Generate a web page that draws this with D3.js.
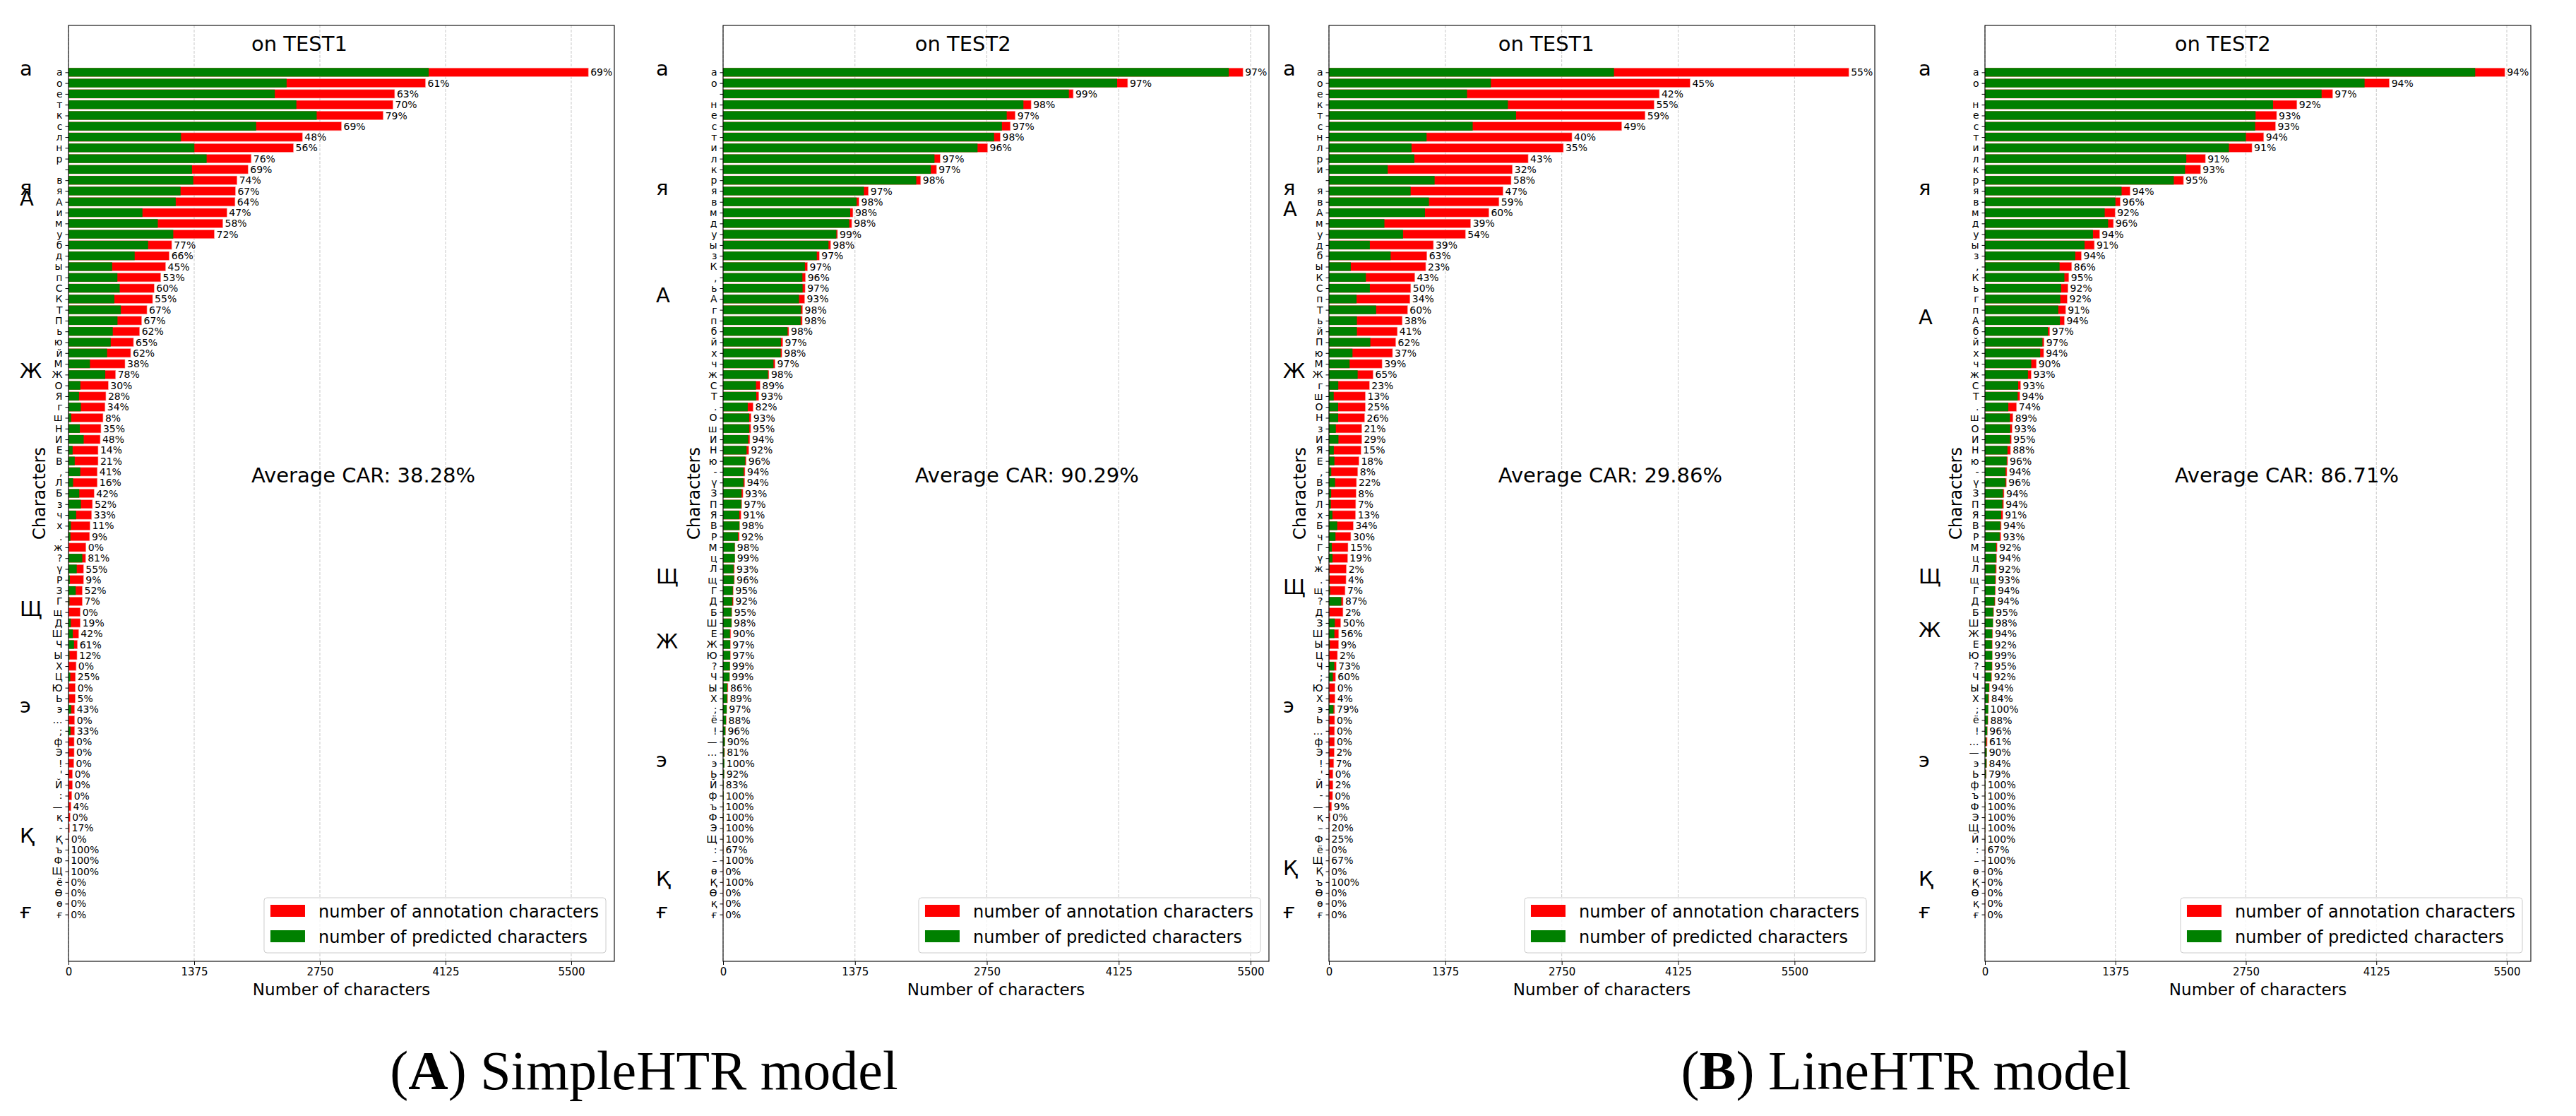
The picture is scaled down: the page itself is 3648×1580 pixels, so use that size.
<!DOCTYPE html>
<html>
<head>
<meta charset="utf-8">
<script src="https://cdn.jsdelivr.net/npm/d3@7"></script>
<style>
  body { margin: 0; background: #fff; }
  svg { display: block; }
</style>
</head>
<body>
<svg id="fig"></svg>
<script>
// ---- data ----
const xTicks = [0, 1375, 2750, 4125, 5500];
const panelTitles = ["on TEST1", "on TEST2", "on TEST1", "on TEST2"];
const averageCar = ["38.28", "90.29", "29.86", "86.71"];
const legendLabels = ["number of annotation characters", "number of predicted characters"];
const captions = [["A", " SimpleHTR model"], ["B", " LineHTR model"]];

// SimpleHTR on TEST1
const simpleT1Chars = ["а","о","е","т","к","с","л","н","р"," ","в","я","А","и","м","у","б","д","ы","п",
  "С","К","Т","П","ь","ю","й","М","Ж","О","Я","г","ш","Н","И","Е","В",",","Л","Б",
  "з","ч","х",".","ж","?","ү","Р","З","Г","щ","Д","Ш","Ч","Ы","Х","Ц","Ю","Ь","э",
  "…",";","ф","Э","!","'","Й",":","—","қ","-","Қ","ъ","Ф","Щ","ё","Ө","ө","ғ"];
const simpleT1Annot = [5687,3905,3568,3550,3443,2986,2559,2461,1999,1964,1844,1826,1822,1733,1688,1595,1129,1102,1062,1009,
  937,920,858,800,778,711,680,618,515,435,409,400,378,355,347,324,324,315,315,280,
  262,253,235,231,191,187,164,164,151,151,129,129,111,98,93,84,76,75,74,67,
  67,67,62,62,58,44,44,36,27,18,12,5,3,2,1,1,1,1,1];
const simpleT1Pred = [3941,2386,2257,2493,2715,2053,1231,1377,1511,1351,1365,1226,1173,809,977,1146,871,724,478,535,
  560,502,573,536,484,462,422,235,402,130,115,136,30,124,166,45,68,129,50,118,
  136,84,26,21,0,151,90,15,79,11,0,25,47,60,11,0,19,0,4,29,
  0,22,0,0,0,0,0,0,1,0,2,0,3,2,1,0,0,0,0];
const simpleT1Pct = [69,61,63,70,79,69,48,56,76,69,74,67,64,47,58,72,77,66,45,53,
  60,55,67,67,62,65,62,38,78,30,28,34,8,35,48,14,21,41,16,42,
  52,33,11,9,0,81,55,9,52,7,0,19,42,61,12,0,25,0,5,43,
  0,33,0,0,0,0,0,0,4,0,17,0,100,100,100,0,0,0,0];

// SimpleHTR on TEST2
const simpleT2Chars = ["а","о"," ","н","е","с","т","и","л","к","р","я","в","м","д","у","ы","з","К",",",
  "ь","А","г","п","б","й","х","ч","ж","С","Т",".","О","ш","И","Н","ю","-","ү","З",
  "П","Я","В","Р","М","ц","Л","щ","Г","Д","Б","Ш","Е","Ж","Ю","?","Ч","Ы","Х",";",
  "ё","!","—","…","э","Ь","Й","ф","ъ","Ф","Э","Щ",":","–","ө","Қ","Ө","қ","ғ"];
const simpleT2Annot = [5420,4218,3651,3211,3046,2995,2890,2758,2263,2225,2060,1515,1417,1354,1341,1193,1121,1003,880,859,
  855,850,829,825,685,622,613,542,478,385,372,313,292,288,279,267,241,228,226,207,
  195,186,173,169,124,123,118,118,106,106,93,89,80,76,76,72,68,51,47,38,
  34,25,20,16,13,12,6,5,4,4,3,3,3,2,1,1,1,1,1];
const simpleT2Pred = [5272,4108,3605,3131,2957,2907,2825,2653,2204,2166,2014,1468,1392,1325,1315,1181,1099,977,853,827,
  829,791,813,809,672,603,601,525,468,343,346,257,272,273,262,245,231,215,213,193,
  189,169,170,156,121,122,110,113,101,98,88,87,72,74,74,71,67,44,42,37,
  30,24,18,13,13,11,5,5,4,4,3,3,2,2,0,1,0,0,0];
const simpleT2Pct = [97,97,99,98,97,97,98,96,97,97,98,97,98,98,98,99,98,97,97,96,
  97,93,98,98,98,97,98,97,98,89,93,82,93,95,94,92,96,94,94,93,
  97,91,98,92,98,99,93,96,95,92,95,98,90,97,97,99,99,86,89,97,
  88,96,90,81,100,92,83,100,100,100,100,100,67,100,0,100,0,0,0];

// LineHTR on TEST1
const lineT1Chars = ["а","о","е","к","т","с","н","л","р","и"," ","я","в","А","м","у","д","б","ы","К",
  "С","п","Т","ь","й","П","ю","М","Ж","г","ш","О","Н","з","И","Я","Е",",","В","Р",
  "Л","х","Б","ч","Г","ү","ж",".","щ","?","Д","З","Ш","Ы","Ц","Ч",";","Ю","Х","э",
  "Ь","…","ф","Э","!","'","Й","-","—","қ","–","Ф","ё","Щ","Қ","ъ","Ө","ө","ғ"];
const lineT1Annot = [6141,4266,3903,3841,3735,3458,2870,2769,2353,2167,2152,2057,2009,1889,1674,1612,1234,1157,1143,1014,
  966,957,928,866,808,789,751,627,521,478,430,430,421,387,387,378,354,340,325,320,
  316,314,287,258,225,220,206,201,191,167,166,139,115,114,100,86,77,72,72,67,
  67,66,66,62,57,48,48,43,32,14,5,4,3,3,2,1,1,1,1];
const lineT1Pred = [3367,1913,1631,2114,2210,1698,1153,976,1009,694,1248,965,1181,1134,655,875,483,729,258,436,
  483,326,557,330,330,489,278,244,339,110,56,108,109,81,112,57,64,27,72,26,
  22,41,98,77,34,42,4,8,13,146,3,69,64,10,2,63,46,0,3,53,
  0,0,0,1,4,0,1,0,3,0,1,1,0,2,0,1,0,0,0];
const lineT1Pct = [55,45,42,55,59,49,40,35,43,32,58,47,59,60,39,54,39,63,23,43,
  50,34,60,38,41,62,37,39,65,23,13,25,26,21,29,15,18,8,22,8,
  7,13,34,30,15,19,2,4,7,87,2,50,56,9,2,73,60,0,4,79,
  0,0,0,2,7,0,2,0,9,0,20,25,0,67,0,100,0,0,0];

// LineHTR on TEST2
const lineT2Chars = ["а","о"," ","н","е","с","т","и","л","к","р","я","в","м","д","у","ы","з",",","К",
  "ь","г","п","А","б","й","х","ч","ж","С","Т",".","ш","О","И","Н","ю","-","ү","З",
  "П","Я","В","Р","М","ц","Л","щ","Г","Д","Б","Ш","Ж","Е","Ю","?","Ч","Ы","Х",";",
  "ё","!","…","—","э","Ь","ф","ъ","Ф","Э","Щ","Й",":","–","ө","Қ","Ө","қ","ғ"];
const lineT2Annot = [5479,4262,3664,3288,3074,3062,2938,2814,2323,2272,2092,1529,1426,1371,1354,1208,1153,1016,914,884,
  875,867,850,837,683,623,619,542,487,376,367,333,295,286,278,269,239,231,226,201,
  196,188,171,167,128,124,120,115,111,107,92,85,81,79,77,77,72,47,43,34,
  33,25,23,20,19,14,5,4,4,3,3,3,3,2,1,1,1,1,1];
const lineT2Pred = [5167,4001,3548,3036,2852,2848,2750,2571,2122,2109,1990,1440,1375,1262,1298,1138,1050,952,786,837,
  803,794,773,790,663,606,582,488,453,350,345,246,263,266,264,237,229,217,217,189,
  184,171,161,155,118,117,110,107,104,101,87,83,76,73,76,73,66,44,36,34,
  29,24,14,18,16,11,5,4,4,3,3,3,2,2,0,0,0,0,0];
const lineT2Pct = [94,94,97,92,93,93,94,91,91,93,95,94,96,92,96,94,91,94,86,95,
  92,92,91,94,97,97,94,90,93,93,94,74,89,93,95,88,96,94,96,94,
  94,91,94,93,92,94,92,93,94,94,95,98,94,92,99,95,92,94,84,100,
  88,96,61,90,84,79,100,100,100,100,100,100,67,100,0,0,0,0,0];

// the large letters printed left of each axis, with the row they sit on
const simpleT1BigChars = ["а","я","А","Ж","Щ","э","Қ","ғ"];
const simpleT1BigRows = [0, 11, 12, 28, 50, 59, 71, 78];
const simpleT2BigChars = ["а","я","А","Щ","Ж","э","Қ","ғ"];
const simpleT2BigRows = [0, 11, 21, 47, 53, 64, 75, 78];
const lineT1BigChars = ["а","я","А","Ж","Щ","э","Қ","ғ"];
const lineT1BigRows = [0, 11, 13, 28, 48, 59, 74, 78];
const lineT2BigChars = ["а","я","А","Щ","Ж","э","Қ","ғ"];
const lineT2BigRows = [0, 11, 23, 47, 52, 64, 75, 78];

// ---- layout ----
const W = 3648, H = 1580;
const plotTop = 36, plotBottom = 1361, plotW = 773;
const panelLeft = [97, 1024, 1882, 2811];
const bigDx = [-69, -95, -65, -94];
const font = "DejaVu Sans, Verdana, sans-serif";
const RED = "#ff0000", GREEN = "#008000";

const svg = d3.select("#fig").attr("width", W).attr("height", H)
  .style("font-family", font);

const panels = [
  { chars: simpleT1Chars, annot: simpleT1Annot, pred: simpleT1Pred, pct: simpleT1Pct, big: simpleT1BigChars, bigRows: simpleT1BigRows },
  { chars: simpleT2Chars, annot: simpleT2Annot, pred: simpleT2Pred, pct: simpleT2Pct, big: simpleT2BigChars, bigRows: simpleT2BigRows },
  { chars: lineT1Chars, annot: lineT1Annot, pred: lineT1Pred, pct: lineT1Pct, big: lineT1BigChars, bigRows: lineT1BigRows },
  { chars: lineT2Chars, annot: lineT2Annot, pred: lineT2Pred, pct: lineT2Pct, big: lineT2BigChars, bigRows: lineT2BigRows }
];

panels.forEach(function (p, k) {
  drawPanel(p, k);
});

function drawPanel(p, k) {
  const g = svg.append("g").attr("transform", "translate(" + panelLeft[k] + ",0)");
  const n = p.chars.length;
  const rows = d3.range(n);
  const x = d3.scaleLinear().domain([0, d3.max(p.annot) * 1.05]).range([0, plotW]);
  const y = d3.scaleLinear().domain([-4.34, n - 1 + 4.34]).range([plotTop, plotBottom]);
  const barH = (y(1) - y(0)) * 0.8;

  // dashed vertical grid
  g.selectAll("line.grid")
    .data(xTicks)
    .join("line")
    .attr("class", "grid")
    .attr("x1", d => x(d)).attr("x2", d => x(d))
    .attr("y1", plotTop).attr("y2", plotBottom)
    .attr("stroke", "#c8c8c8")
    .attr("stroke-width", 1)
    .attr("stroke-dasharray", "4,2");

  // annotation (red) underneath, predicted (green) on top
  g.selectAll("rect.annot")
    .data(rows)
    .join("rect")
    .attr("class", "annot")
    .attr("x", x(0))
    .attr("y", i => y(i) - barH / 2)
    .attr("width", i => x(p.annot[i]) - x(0))
    .attr("height", barH)
    .attr("fill", RED)
    .attr("stroke", "#ff9a9a")
    .attr("stroke-width", 0.6);

  g.selectAll("rect.pred")
    .data(rows)
    .join("rect")
    .attr("class", "pred")
    .attr("x", x(0))
    .attr("y", i => y(i) - barH / 2)
    .attr("width", i => x(p.pred[i]) - x(0))
    .attr("height", barH)
    .attr("fill", GREEN);

  // percentage labels
  g.selectAll("text.pct")
    .data(rows)
    .join("text")
    .attr("class", "pct")
    .attr("x", i => x(p.annot[i]) + 3)
    .attr("y", i => y(i))
    .attr("dy", "0.36em")
    .attr("font-size", 14)
    .text(i => p.pct[i] + "%");

  // frame
  g.append("rect")
    .attr("x", 0).attr("y", plotTop)
    .attr("width", plotW).attr("height", plotBottom - plotTop)
    .attr("fill", "none")
    .attr("stroke", "#000")
    .attr("stroke-width", 1.1);

  // y axis: characters
  const yAxis = g.append("g")
    .call(d3.axisLeft(y).tickValues(rows).tickFormat(i => p.chars[i]).tickSize(4.5).tickPadding(4));
  yAxis.select(".domain").remove();
  yAxis.attr("font-family", font).attr("font-size", 14);

  // x axis
  const xAxis = g.append("g")
    .attr("transform", "translate(0," + plotBottom + ")")
    .call(d3.axisBottom(x).tickValues(xTicks).tickFormat(d3.format("d")).tickSize(5).tickPadding(4));
  xAxis.select(".domain").remove();
  xAxis.attr("font-family", font).attr("font-size", 15);

  // axis titles
  g.append("text")
    .attr("x", plotW / 2).attr("y", 1409)
    .attr("text-anchor", "middle")
    .attr("font-size", 23)
    .text("Number of characters");
  g.append("text")
    .attr("transform", "translate(-42," + ((plotTop + plotBottom) / 2) + ") rotate(-90)")
    .attr("text-anchor", "middle")
    .attr("dy", "0.36em")
    .attr("font-size", 24)
    .text("Characters");

  // in-plot title and average
  g.append("text")
    .attr("x", x(2000)).attr("y", y(-2))
    .attr("font-size", 29)
    .text(panelTitles[k]);
  g.append("text")
    .attr("x", x(2000)).attr("y", y(38))
    .attr("font-size", 29)
    .text("Average CAR: " + averageCar[k] + "%");

  // large letters at the far left
  g.selectAll("text.big")
    .data(p.big)
    .join("text")
    .attr("class", "big")
    .attr("x", bigDx[k])
    .attr("y", (d, i) => y(p.bigRows[i] - 0.35))
    .attr("dy", "0.36em")
    .attr("font-size", 29)
    .text(d => d);

  // legend, lower right
  const lg = g.append("g");
  const box = lg.append("rect")
    .attr("fill", "#fff").attr("fill-opacity", 0.8)
    .attr("stroke", "#cccccc").attr("stroke-width", 1)
    .attr("rx", 4);
  const items = lg.selectAll("g.item")
    .data(legendLabels)
    .join("g")
    .attr("class", "item")
    .attr("transform", (d, i) => "translate(0," + (i * 36) + ")");
  items.append("rect")
    .attr("x", 9).attr("y", 10)
    .attr("width", 49).attr("height", 17)
    .attr("fill", (d, i) => i === 0 ? RED : GREEN);
  const labels = items.append("text")
    .attr("x", 77).attr("y", 19)
    .attr("dy", "0.36em")
    .attr("font-size", 24)
    .text(d => d);
  let tw = 0;
  labels.each(function () { tw = Math.max(tw, this.getComputedTextLength()); });
  const lw = 77 + tw + 10, lh = 78;
  box.attr("width", lw).attr("height", lh);
  lg.attr("transform", "translate(" + (plotW - 12 - lw) + "," + (plotBottom - 12 - lh) + ")");
}

// sub-figure captions
const captionX = [912, 2699];
captions.forEach(function (c, i) {
  const t = svg.append("text")
    .attr("x", captionX[i]).attr("y", 1542)
    .attr("text-anchor", "middle")
    .attr("font-family", "Liberation Serif, DejaVu Serif, serif")
    .attr("font-size", 78);
  t.append("tspan").text("(");
  t.append("tspan").attr("font-weight", "bold").text(c[0]);
  t.append("tspan").text(")" + c[1]);
});
</script>
</body>
</html>
